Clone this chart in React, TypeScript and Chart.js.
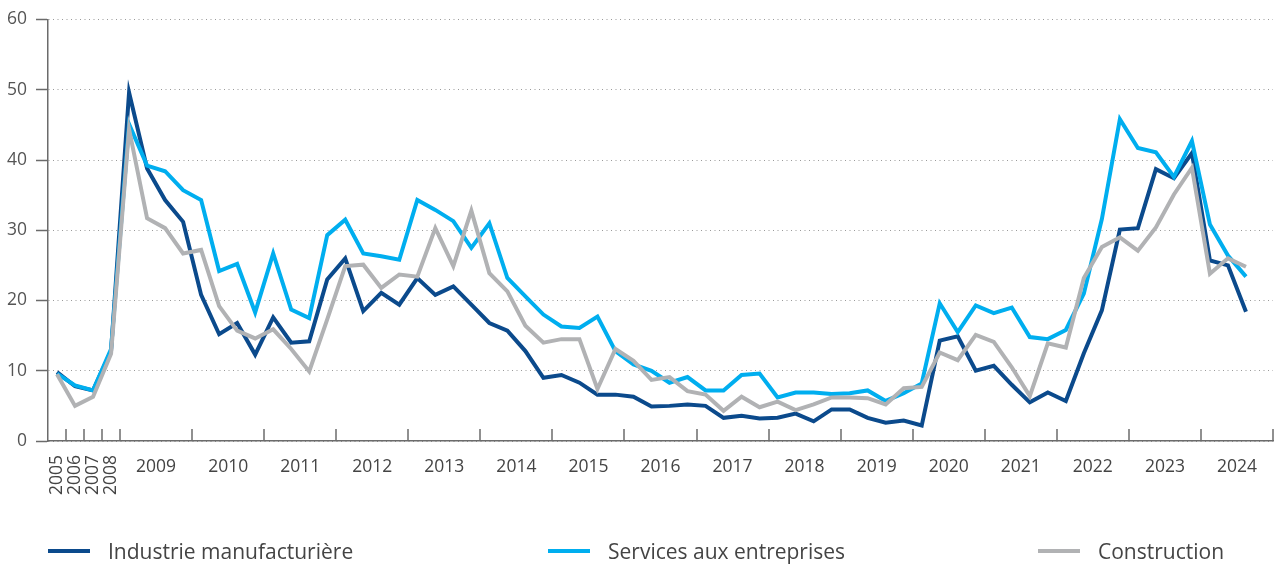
import React, { useEffect, useRef } from 'react';
import { Chart, registerables } from 'chart.js';

Chart.register(...registerables);

// ---- Data ----
const annualYears = ['2005', '2006', '2007', '2008'];
const quarterYears = ['2009', '2010', '2011', '2012', '2013', '2014', '2015', '2016', '2017', '2018', '2019', '2020', '2021', '2022', '2023', '2024'];
const quarterNames = ['T1', 'T2', 'T3', 'T4'];
const categories = [
  ...annualYears,
  ...quarterYears.flatMap((y) => quarterNames.map((q) => `${y} ${q}`)),
];

const seriesNames = ['Industrie manufacturière', 'Services aux entreprises', 'Construction'];

const industrie = [
  9.8, 7.8, 7.2, 12.8,
  49.6, 38.8, 34.3, 31.2,
  20.8, 15.2, 16.8, 12.3,
  17.6, 14.0, 14.2, 23.0,
  26.0, 18.5, 21.1, 19.4,
  23.2, 20.8, 22.0, 19.4,
  16.8, 15.7, 12.8, 9.0,
  9.4, 8.3, 6.6, 6.6,
  6.3, 4.9, 5.0, 5.2,
  5.0, 3.3, 3.6, 3.2,
  3.3, 3.9, 2.8, 4.5,
  4.5, 3.3, 2.6, 2.9,
  2.2, 14.3, 14.9, 10.0,
  10.7, 8.0, 5.5, 6.9,
  5.7, 12.5, 18.6, 30.1,
  30.3, 38.7, 37.4, 41.0,
  25.7, 25.0, 18.4, null,
];

const services = [
  9.6, 7.9, 7.2, 13.1,
  45.1, 39.2, 38.4, 35.7,
  34.3, 24.2, 25.2, 18.3,
  26.7, 18.7, 17.5, 29.3,
  31.5, 26.7, 26.3, 25.8,
  34.3, 32.9, 31.3, 27.5,
  31.0, 23.2, 20.6, 18.0,
  16.3, 16.1, 17.7, 12.8,
  10.9, 10.0, 8.3, 9.1,
  7.2, 7.2, 9.4, 9.6,
  6.2, 6.9, 6.9, 6.7,
  6.8, 7.2, 5.7, 6.8,
  8.2, 19.6, 15.5, 19.3,
  18.2, 19.0, 14.8, 14.5,
  15.8, 21.0, 31.6, 45.8,
  41.7, 41.1, 37.6, 42.7,
  30.8, 26.4, 23.4, null,
];

const construction = [
  9.5, 5.0, 6.3, 12.4,
  44.4, 31.7, 30.3, 26.7,
  27.2, 19.2, 15.7, 14.6,
  15.9, 13.1, 9.9, 17.3,
  24.9, 25.1, 21.8, 23.7,
  23.4, 30.3, 24.9, 32.8,
  23.9, 21.3, 16.4, 14.0,
  14.5, 14.5, 7.4, 13.1,
  11.4, 8.7, 9.1, 7.1,
  6.6, 4.3, 6.3, 4.8,
  5.6, 4.4, 5.2, 6.2,
  6.2, 6.1, 5.2, 7.5,
  7.7, 12.6, 11.5, 15.1,
  14.1, 10.5, 6.4, 13.9,
  13.3, 23.2, 27.6, 29.0,
  27.1, 30.4, 35.1, 38.9,
  23.8, 26.0, 24.8, null,
];

const colors = ['#0b4a8c', '#00aeef', '#b1b2b4'];
const FONT = '"Open Sans", "Noto Sans", sans-serif';
const AXIS = '#6b6b6b';
const TEXT = '#444444';

const xAxisDecor = {
  id: 'xAxisDecor',
  beforeDatasetsDraw(chart: any) {
    const x = chart.scales.x;
    const { ctx, chartArea } = chart;
    const bottom = chartArea.bottom;
    ctx.save();
    ctx.strokeStyle = AXIS;
    ctx.lineWidth = 1.5;
    const bounds: number[] = [];
    annualYears.forEach((_, i) => bounds.push(i + 0.5));
    quarterYears.forEach((_, j) => bounds.push(annualYears.length + 4 * j + 3.5));
    bounds.forEach((b) => {
      const px = Math.round(x.getPixelForValue(b));
      ctx.beginPath();
      ctx.moveTo(px, bottom);
      ctx.lineTo(px, bottom - 12);
      ctx.stroke();
    });
    ctx.restore();
  },
  afterDraw(chart: any) {
    const x = chart.scales.x;
    const { ctx, chartArea } = chart;
    const bottom = chartArea.bottom;
    ctx.save();
    ctx.fillStyle = TEXT;
    ctx.font = `17.5px ${FONT}`;
    annualYears.forEach((lab, i) => {
      const px = x.getPixelForValue(i);
      ctx.save();
      ctx.translate(px, bottom + 14);
      ctx.rotate(-Math.PI / 2);
      ctx.textAlign = 'right';
      ctx.textBaseline = 'middle';
      ctx.fillText(lab, 0, 0);
      ctx.restore();
    });
    ctx.textAlign = 'center';
    ctx.textBaseline = 'middle';
    quarterYears.forEach((lab, j) => {
      const px = x.getPixelForValue(annualYears.length + 4 * j + 1.5);
      ctx.fillText(lab, px, bottom + 26);
    });
    ctx.restore();
  },
};

const legendPos = [48, 548, 1038];

export default function App() {
  const canvasRef = useRef<HTMLCanvasElement | null>(null);

  useEffect(() => {
    if (!canvasRef.current) return;
    const data = [industrie, services, construction];
    const chart = new Chart(canvasRef.current, {
      type: 'line',
      data: {
        labels: categories,
        datasets: data.map((d, i) => ({
          label: seriesNames[i],
          data: d,
          borderColor: colors[i],
          backgroundColor: colors[i],
          borderWidth: 4,
          pointRadius: 0,
          tension: 0,
          fill: false,
          order: 3 - i,
        })),
      },
      options: {
        animation: false,
        responsive: true,
        maintainAspectRatio: false,
        layout: { padding: { top: 17, right: 4, left: 0, bottom: 0 } },
        plugins: {
          legend: { display: false },
          tooltip: { enabled: false },
        },
        scales: {
          x: {
            type: 'category',
            offset: true,
            grid: { display: false },
            border: { display: true, color: AXIS, width: 1.5 },
            ticks: { display: false },
            afterFit: (s: any) => {
              s.height = 126;
            },
          },
          y: {
            min: 0,
            max: 60,
            ticks: {
              stepSize: 10,
              color: '#555555',
              padding: 9,
              font: { family: FONT, size: 17.5 },
            },
            grid: {
              color: '#9a9a9a',
              lineWidth: 1,
              tickColor: AXIS,
              tickLength: 12,
              tickWidth: 1.5,
            },
            border: { display: true, color: AXIS, width: 1.5, dash: [1, 3.5] },
            afterFit: (s: any) => {
              s.width = 48;
            },
          },
        },
      },
      plugins: [xAxisDecor],
    });
    return () => chart.destroy();
  }, []);

  return (
    <div style={{ position: 'fixed', left: 0, top: 0, width: 1277, height: 567, background: '#fff' }}>
      <canvas ref={canvasRef} />
      {seriesNames.map((name, i) => (
        <div
          key={name}
          style={{
            position: 'absolute',
            left: legendPos[i],
            top: 537,
            height: 28,
            display: 'flex',
            alignItems: 'center',
            whiteSpace: 'nowrap',
            fontFamily: FONT,
            fontSize: 21,
            color: TEXT,
          }}
        >
          <span style={{ display: 'inline-block', width: 42, height: 4, background: colors[i], marginRight: 18 }} />
          <span>{name}</span>
        </div>
      ))}
    </div>
  );
}
